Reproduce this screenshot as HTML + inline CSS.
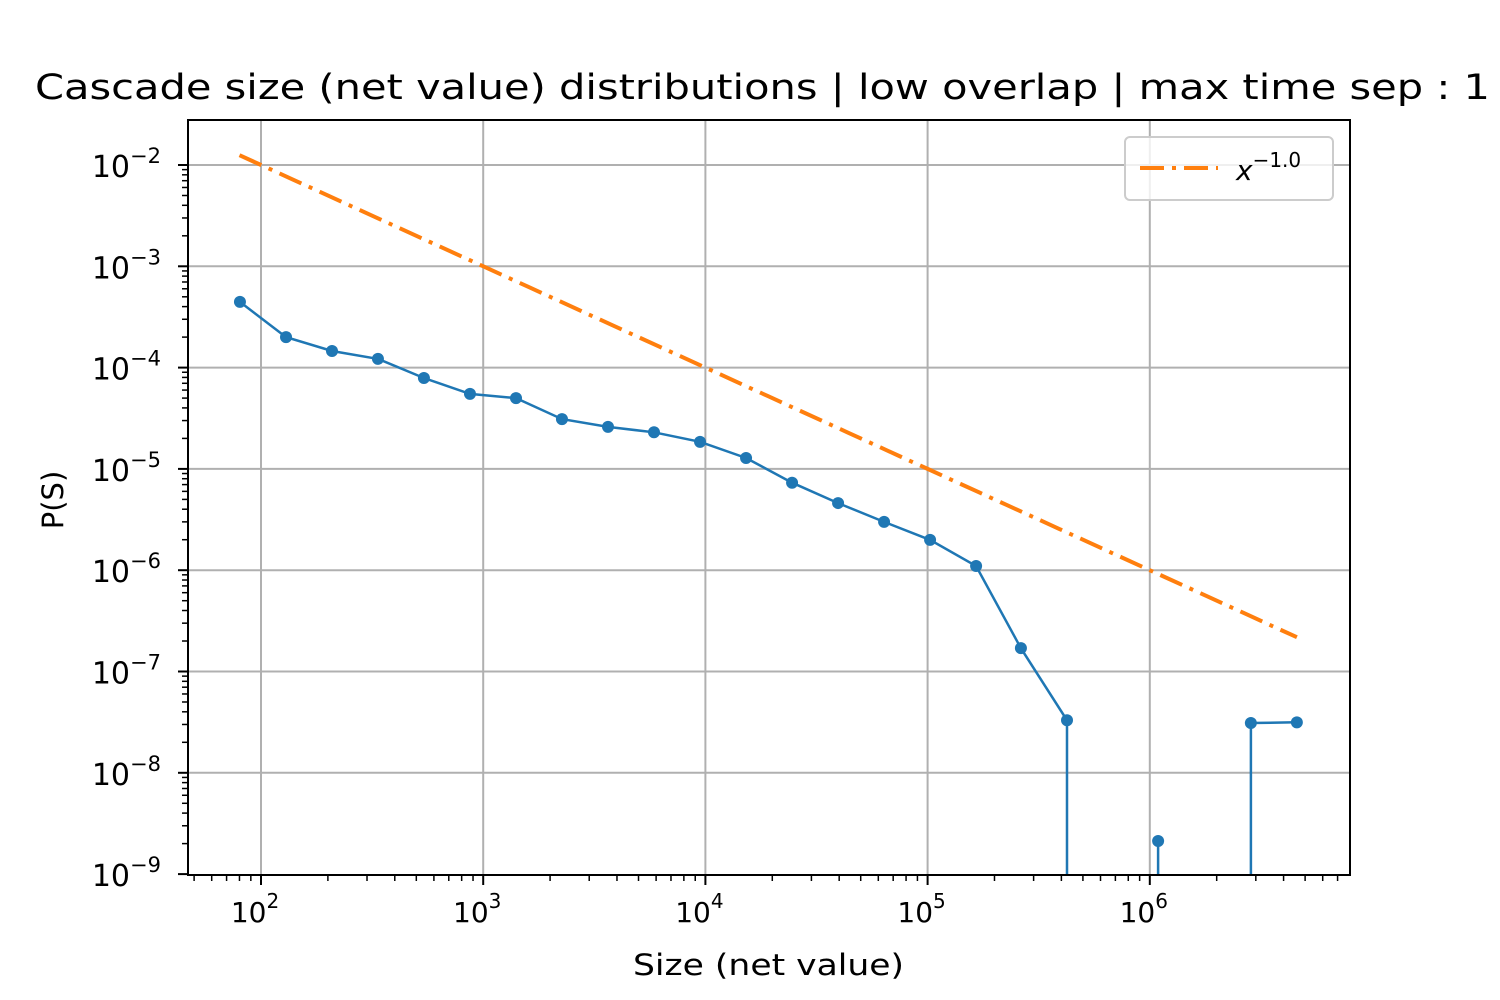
<!DOCTYPE html>
<html><head><meta charset="utf-8"><style>
html,body{margin:0;padding:0;background:#fff;overflow:hidden;width:1500px;height:1000px}
svg{display:block;font-family:"DejaVu Sans","Liberation Sans",sans-serif}
</style></head><body>
<svg id="chart" width="1500" height="1000" viewBox="0 0 1500 1000">
<defs><clipPath id="clip"><rect x="188" y="120" width="1162" height="755"/></clipPath></defs>
<g id="grid"></g>
<g id="ticks"></g>
<g clip-path="url(#clip)">
<path id="powerlaw" fill="none" stroke="#ff7f0e" stroke-width="4" stroke-dasharray="24,8,4,8"/>
<path id="series" fill="none" stroke="#1f77b4" stroke-width="2.5"/>
<g id="markers"></g>
</g>
<rect x="188" y="120" width="1162" height="755" fill="none" stroke="#000" stroke-width="2"/>
<text x="35" y="99" font-size="35" textLength="1455" lengthAdjust="spacingAndGlyphs">Cascade size (net value) distributions | low overlap | max time sep : 1</text>
<text x="633" y="975" font-size="29" textLength="271" lengthAdjust="spacingAndGlyphs">Size (net value)</text>
<text x="63" y="500" font-size="29" text-anchor="middle" transform="rotate(-90 63 500)">P(S)</text>
<g>
<rect x="1125" y="137" width="208" height="63" rx="5" fill="#fff" fill-opacity="0.8" stroke="#ccc" stroke-width="2"/>
<line x1="1140" y1="168" x2="1218" y2="168" stroke="#ff7f0e" stroke-width="4" stroke-dasharray="24,8,4,8"/>
<text x="1236" y="180" font-size="28" font-style="italic">x<tspan dy="-13" font-size="20" font-style="normal">−1.0</tspan></text>
</g>
</svg>
<script>
const xs = [80.4,129.6,208.7,336,541,872,1405,2262,3645,5870,9460,15240,24550,39550,63700,102600,165300,263000,424000,683000,1090000,1760000,2850000,4590000];
const ps = [4.45e-4,2.0e-4,1.46e-4,1.22e-4,7.9e-5,5.5e-5,5.0e-5,3.1e-5,2.6e-5,2.3e-5,1.85e-5,1.28e-5,7.3e-6,4.6e-6,3.0e-6,1.99e-6,1.1e-6,1.7e-7,3.3e-8,0,2.12e-9,0,3.1e-8,3.15e-8];
const powerExp = -1.0;
const powerRange = [80, 4590000];
const xTickExps = [2,3,4,5,6];
const yTickExps = [-2,-3,-4,-5,-6,-7,-8,-9];

const NS='http://www.w3.org/2000/svg';
const BOTTOM=880;
function X(v){return 261+(Math.log10(v)-2)*222.2;}
function Y(v){ if(v<=0) return BOTTOM; return 165+(-2-Math.log10(v))*101.3;}
function mk(tag,attrs,parent){const e=document.createElementNS(NS,tag);for(const k in attrs)e.setAttribute(k,attrs[k]);parent.appendChild(e);return e;}
const grid=document.getElementById('grid'), ticks=document.getElementById('ticks');
xTickExps.forEach(e=>{
  const x=X(Math.pow(10,e));
  const g=mk('line',{x1:x,x2:x,y1:120,y2:875,stroke:'#b0b0b0','stroke-width':2},grid);
  
  
  const t=mk('line',{x1:x,x2:x,y1:875,y2:885,stroke:'#000','stroke-width':2},ticks);
  
  
  const l=mk('text',{x:x-6,y:922,'font-size':28,'text-anchor':'middle'},ticks);
  
  
  l.innerHTML='10<tspan dy="-14" font-size="20">'+e+'</tspan>';
});
for(let e=1;e<7;e++)for(let m=2;m<10;m++){
  const v=m*Math.pow(10,e), x=X(v);
  if(x<188||x>1350)continue;
  const t=mk('line',{x1:x,x2:x,y1:875,y2:881,stroke:'#000','stroke-width':1.5},ticks);
  
  
}
yTickExps.forEach(e=>{
  const y=Y(Math.pow(10,e));
  if(e>-9){const g=mk('line',{x1:188,x2:1350,y1:y,y2:y,stroke:'#b0b0b0','stroke-width':2},grid);
  
  }
  const t=mk('line',{x1:178,x2:188,y1:y,y2:y,stroke:'#000','stroke-width':2},ticks);
  
  
  const l=mk('text',{x:161,y:y+12,'font-size':30,'text-anchor':'end'},ticks);
  
  
  l.innerHTML='10<tspan dy="-14" font-size="21">−'+(-e)+'</tspan>';
});
for(let e=-10;e<-2;e++)for(let m=2;m<10;m++){
  const y=Y(m*Math.pow(10,e));
  if(y<120||y>875)continue;
  const t=mk('line',{x1:182,x2:188,y1:y,y2:y,stroke:'#000','stroke-width':1.5},ticks);
  
  
}
const pl=[];const n=40;
for(let i=0;i<=n;i++){const v=Math.pow(10,Math.log10(powerRange[0])+(Math.log10(powerRange[1])-Math.log10(powerRange[0]))*i/n);pl.push((i?'L':'M')+X(v).toFixed(1)+','+Y(Math.pow(v,powerExp)).toFixed(1));}
document.getElementById('powerlaw').setAttribute('d',pl.join(''));
// series: zero values drop vertically to the bottom (log clip)
let d='';let prevX=null;let prevZero=false;
xs.forEach((v,i)=>{
  const x=X(v);
  if(ps[i]<=0){ if(prevX!==null && !prevZero) d+='L'+prevX.toFixed(1)+','+BOTTOM; prevZero=true; }
  else {
    const y=Y(ps[i]);
    if(prevX===null) d+='M'+x.toFixed(1)+','+y.toFixed(1);
    else if(prevZero) d+='M'+x.toFixed(1)+','+BOTTOM+'L'+x.toFixed(1)+','+y.toFixed(1);
    else d+='L'+x.toFixed(1)+','+y.toFixed(1);
    prevZero=false;
  }
  prevX=x;
});
document.getElementById('series').setAttribute('d',d);
const mg=document.getElementById('markers');
xs.forEach((v,i)=>{ if(ps[i]<=0)return;
  const c=mk('circle',{cx:X(v),cy:Y(ps[i]),r:6,fill:'#1f77b4'},mg);
  
  
});
</script>
</body></html>
